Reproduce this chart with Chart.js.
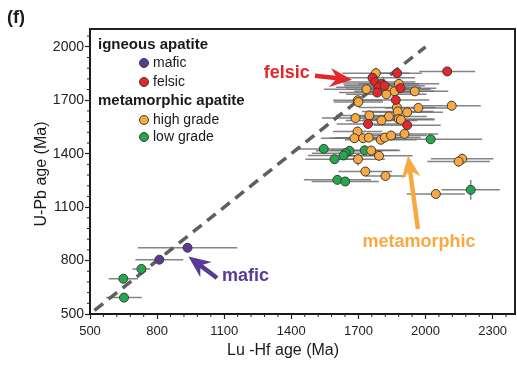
<!DOCTYPE html>
<html><head><meta charset="utf-8">
<script src="https://cdn.jsdelivr.net/npm/chart.js@4/dist/chart.umd.min.js"></script>
<style>html,body{margin:0;padding:0;background:#fff}#wrap{width:517px;height:371px}</style>
</head><body><div id="wrap"><canvas id="c" width="517" height="371"></canvas></div>
<script>
// ---------- data ----------
const xTicks = [500, 800, 1100, 1400, 1700, 2000, 2300];
const yTicks = [500, 800, 1100, 1400, 1700, 2000];
const minorStep = 60;

const maficX = [810, 936];
const maficY = [805, 872];
const maficXErr = [107, 222];
const maficYErr = [12, 12];

const felsicX = [1873, 2097, 1763, 1775, 1802, 1790, 1817, 1784, 1888, 1867, 1743, 1918];
const felsicY = [1852, 1862, 1826, 1802, 1791, 1773, 1781, 1743, 1768, 1702, 1567, 1560];
const felsicXErr = [110, 125, 190, 180, 170, 190, 180, 170, 160, 150, 140, 150];
const felsicYErr = [25, 25, 20, 20, 20, 20, 20, 20, 20, 20, 20, 20];

const highX = [1778,1881,1736,1834,1861,1825,1952,1697,1700,2117,1968,1872,1876,1918,1749,1687,1836,1803,1880,1890,1696,1682,1721,1746,1800,1818,1846,1906,1757,1792,1698,2164,2148,1731,1821,2046];
const highY = [1852,1792,1762,1762,1750,1733,1750,1700,1690,1669,1657,1660,1637,1632,1615,1600,1609,1587,1595,1590,1524,1487,1487,1490,1478,1491,1502,1511,1418,1388,1369,1371,1356,1300,1275,1174];
const highXErr = [150,180,190,190,180,180,150,110,110,130,150,170,160,160,150,150,170,160,160,150,110,150,150,150,160,160,160,150,130,150,120,140,140,120,90,130];
const highYErr = [30,20,20,20,20,20,20,25,25,20,20,25,25,20,20,20,20,20,20,20,20,20,20,20,20,20,20,20,20,20,35,30,30,20,20,20];

const lowX = [652, 649, 730, 1545, 1660, 1643, 1634, 1728, 1593, 1606, 1641, 2023, 2202];
const lowY = [592, 698, 753, 1427, 1416, 1403, 1390, 1419, 1369, 1253, 1244, 1481, 1197];
const lowXErr = [80, 65, 40, 130, 150, 150, 160, 150, 130, 150, 150, 230, 130];
const lowYErr = [10, 10, 10, 20, 20, 20, 20, 20, 20, 20, 20, 20, 55];

const oneToOne = [520, 2000];

// ---------- styles / annotations ----------
const COL = {mafic:'#5a3a96', felsic:'#e5262b', high:'#f9a941', low:'#23a84b'};
const SANS = '"Liberation Sans", Arial, sans-serif';
const notes = [
  {text:'felsic', x:1483, y:1854, align:'right', color:COL.felsic},
  {text:'metamorphic', x:1971, y:904, align:'center', color:COL.high},
  {text:'mafic', x:1090, y:713, align:'left', color:COL.mafic}
];
const arrows = [
  {from:[1506,1837], to:[1671,1815], color:COL.felsic},
  {from:[1966,977], to:[1922,1388], color:COL.high},
  {from:[1068,702], to:[940,823], color:COL.mafic}
];

function pts(xs, ys){ return xs.map((x,i)=>({x:x, y:ys[i]})); }

function ds(label, xs, ys, xe, ye, color, order){
  return {type:'scatter', label, data:pts(xs,ys), xErr:xe, yErr:ye,
    backgroundColor:color, borderColor:'#3a3a3a', borderWidth:1,
    pointRadius:4.5, pointHoverRadius:4.5, order};
}

const errPlugin = {
  id:'err',
  beforeDatasetsDraw(chart){
    const {ctx, scales:{x, y}} = chart;
    ctx.save();
    ctx.strokeStyle = 'rgba(110,110,110,0.85)';
    ctx.lineWidth = 1.5;
    chart.data.datasets.forEach(d=>{
      if(!d.xErr) return;
      d.data.forEach((p,i)=>{
        const px = x.getPixelForValue(p.x), py = y.getPixelForValue(p.y);
        ctx.beginPath();
        ctx.moveTo(x.getPixelForValue(p.x - d.xErr[i]), py);
        ctx.lineTo(x.getPixelForValue(p.x + d.xErr[i]), py);
        ctx.moveTo(px, y.getPixelForValue(p.y - d.yErr[i]));
        ctx.lineTo(px, y.getPixelForValue(p.y + d.yErr[i]));
        ctx.stroke();
      });
    });
    ctx.restore();
  }
};

function drawArrow(ctx, x1, y1, x2, y2, color){
  const ang = Math.atan2(y2-y1, x2-x1);
  const L = Math.hypot(x2-x1, y2-y1);
  const hl = 22, hw = 19, sw = 4.5, notch = 15;
  ctx.save();
  ctx.translate(x2, y2); ctx.rotate(ang);
  ctx.fillStyle = color;
  ctx.beginPath();
  ctx.moveTo(-L, -sw/2); ctx.lineTo(-notch+1, -sw/2); ctx.lineTo(-notch+1, sw/2); ctx.lineTo(-L, sw/2);
  ctx.closePath(); ctx.fill();
  ctx.beginPath();
  ctx.moveTo(0,0); ctx.lineTo(-hl, -hw/2); ctx.lineTo(-notch, 0); ctx.lineTo(-hl, hw/2);
  ctx.closePath(); ctx.fill();
  ctx.restore();
}

const decoPlugin = {
  id:'deco',
  afterDraw(chart){
    const {ctx, chartArea:a, scales:{x, y}} = chart;
    ctx.save();
    // frame top/right
    ctx.strokeStyle = '#222'; ctx.lineWidth = 2;
    ctx.beginPath(); ctx.moveTo(a.left, a.top); ctx.lineTo(a.right, a.top); ctx.lineTo(a.right, a.bottom); ctx.stroke();
    // minor ticks
    ctx.lineWidth = 1; ctx.strokeStyle = '#222';
    ctx.beginPath();
    for(let v = x.min; v < x.max; v += minorStep){
      if(xTicks.includes(v)) continue;
      const p = x.getPixelForValue(v);
      ctx.moveTo(p, a.bottom); ctx.lineTo(p, a.bottom + 3);
    }
    for(let v = y.min; v < y.max; v += minorStep){
      if(yTicks.includes(v)) continue;
      const p = y.getPixelForValue(v);
      ctx.moveTo(a.left, p); ctx.lineTo(a.left - 3, p);
    }
    ctx.stroke();
    // arrows
    arrows.forEach(r=>drawArrow(ctx, x.getPixelForValue(r.from[0]), y.getPixelForValue(r.from[1]),
      x.getPixelForValue(r.to[0]), y.getPixelForValue(r.to[1]), r.color));
    // notes
    ctx.font = 'bold 18px ' + SANS; ctx.textBaseline = 'middle';
    notes.forEach(n=>{ ctx.fillStyle = n.color; ctx.textAlign = n.align;
      ctx.fillText(n.text, x.getPixelForValue(n.x), y.getPixelForValue(n.y)); });
    // legend
    const L0 = a.left + 8, cx = a.left + 54, tx = a.left + 63;
    ctx.fillStyle = '#1a1a1a'; ctx.textAlign = 'left';
    ctx.font = 'bold 15px ' + SANS;
    ctx.fillText('igneous apatite', L0, a.top + 16);
    ctx.fillText('metamorphic apatite', L0, a.top + 72);
    const items = [['mafic', COL.mafic, 34], ['felsic', COL.felsic, 53], ['high grade', COL.high, 91], ['low grade', COL.low, 108]];
    ctx.font = '14px ' + SANS;
    items.forEach(([t, c, dy])=>{
      ctx.beginPath(); ctx.arc(cx, a.top + dy, 4.5, 0, Math.PI*2);
      ctx.fillStyle = c; ctx.fill(); ctx.strokeStyle = '#3a3a3a'; ctx.lineWidth = 1; ctx.stroke();
      ctx.fillStyle = '#1a1a1a'; ctx.fillText(t, tx, a.top + dy);
    });
    // axis titles
    ctx.font = '16px ' + SANS; ctx.fillStyle = '#1a1a1a'; ctx.textAlign = 'center';
    ctx.fillText('Lu -Hf age (Ma)', 283, 351);
    ctx.save(); ctx.translate(42, 174); ctx.rotate(-Math.PI/2);
    ctx.fillText('U-Pb age (Ma)', 0, 0); ctx.restore();
    // panel label
    ctx.font = 'bold 18px ' + SANS; ctx.textAlign = 'left';
    ctx.fillText('(f)', 7, 18);
    ctx.restore();
  }
};

new Chart(document.getElementById('c'), {
  data:{datasets:[
    {type:'line', data:pts(oneToOne, oneToOne), borderColor:'#5f5f5f', borderWidth:3.5,
      borderDash:[11,7], pointRadius:0, order:10},
    ds('low grade', lowX, lowY, lowXErr, lowYErr, COL.low, 4),
    ds('high grade', highX, highY, highXErr, highYErr, COL.high, 3),
    ds('felsic', felsicX, felsicY, felsicXErr, felsicYErr, COL.felsic, 2),
    ds('mafic', maficX, maficY, maficXErr, maficYErr, COL.mafic, 1)
  ]},
  options:{
    responsive:false, animation:false, devicePixelRatio:1,
    layout:{autoPadding:false, padding:{top:29, right:2, left:0, bottom:0}},
    plugins:{legend:{display:false}, tooltip:{enabled:false}},
    events:[],
    scales:{
      x:{type:'linear', min:500, max:2400,
        afterBuildTicks:s=>{ s.ticks = xTicks.map(v=>({value:v})); },
        afterFit:s=>{ s.height = 57; s.paddingRight = 0; },
        ticks:{callback:v=>String(v), font:{family:SANS, size:13}, color:'#222', padding:5, maxRotation:0, autoSkip:false},
        grid:{drawOnChartArea:false, drawTicks:true, tickLength:5, tickColor:'#222', tickWidth:1.2},
        border:{display:true, color:'#1a1a1a', width:2}},
      y:{type:'linear', min:500, max:2100,
        afterBuildTicks:s=>{ s.ticks = yTicks.map(v=>({value:v})); },
        afterFit:s=>{ s.width = 90; },
        ticks:{callback:v=>String(v), font:{family:SANS, size:14}, color:'#222', padding:1, autoSkip:false},
        grid:{drawOnChartArea:false, drawTicks:true, tickLength:5, tickColor:'#222', tickWidth:1.2},
        border:{display:true, color:'#1a1a1a', width:2}}
    }
  },
  plugins:[errPlugin, decoPlugin]
});
</script></body></html>
